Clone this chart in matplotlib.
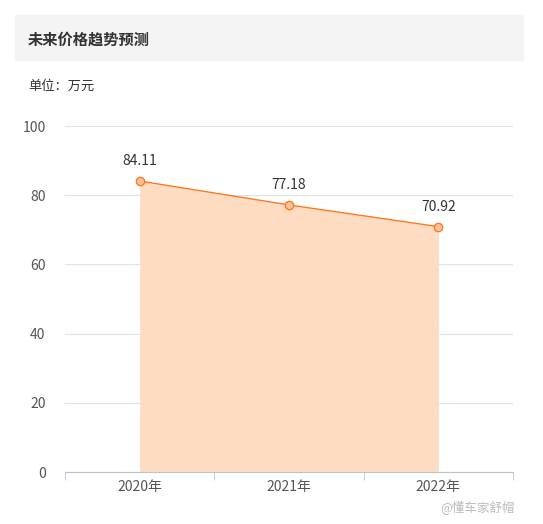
import matplotlib.pyplot as plt
from matplotlib.patches import Rectangle

plt.rcParams['font.family'] = ['Noto Sans CJK SC', 'DejaVu Sans']

years = ['2020年', '2021年', '2022年']
prices = [84.11, 77.18, 70.92]
yticks = [0, 20, 40, 60, 80, 100]

W, H = 543, 524
fig = plt.figure(figsize=(W / 100, H / 100), dpi=100)

# header box
fig.patches.append(Rectangle((15 / W, 1 - 60 / H), 508 / W, 45 / H,
                             transform=fig.transFigure, color='#f4f4f4', zorder=0))
fig.text(28 / W, 1 - 40 / H, '未来价格趋势预测', fontsize=11, fontweight='bold',
         color='#333333', va='center')
fig.text(28 / W, 1 - 86 / H, '单位：万元', fontsize=9.5, color='#333333', va='center')
fig.text(515 / W, 1 - 507 / H, '@懂车家舒帽', fontsize=9, color='#bbbbbb',
         ha='right', va='center')

ax = fig.add_axes([65 / W, 52 / H, 448 / W, 346 / H])
x = [0, 1, 2]
ax.fill_between(x, prices, 0, color='#fedcc2', lw=0)
ax.plot(x, prices, color='#fb7a24', lw=1, marker='o', ms=6,
        mfc='#fcc49b', mec='#fb7a24', mew=1)
for xi, p in zip(x, prices):
    ax.annotate(f'{p:.2f}', (xi, p), xytext=(0, 9), textcoords='offset points',
                ha='center', va='bottom', fontsize=10, color='#333333')

ax.set_xlim(-0.5, 2.5)
ax.set_ylim(0, 100)
ax.set_yticks(yticks)
ax.set_xticks(x, years)
ax.set_xticks([-0.5, 0.5, 1.5, 2.5], minor=True)
ax.grid(axis='y', color='#dde3e8', lw=0.8)
ax.set_axisbelow(True)
for s in ['top', 'right', 'left']:
    ax.spines[s].set_visible(False)
ax.spines['bottom'].set_color('#b8c4d0')
ax.tick_params(axis='y', length=0, pad=14, labelsize=10, labelcolor='#555555')
ax.tick_params(axis='x', which='major', length=0, pad=6, labelsize=10, labelcolor='#555555')
ax.tick_params(axis='x', which='minor', length=6, color='#b8c4d0')

fig.savefig('out.png', dpi=100)
